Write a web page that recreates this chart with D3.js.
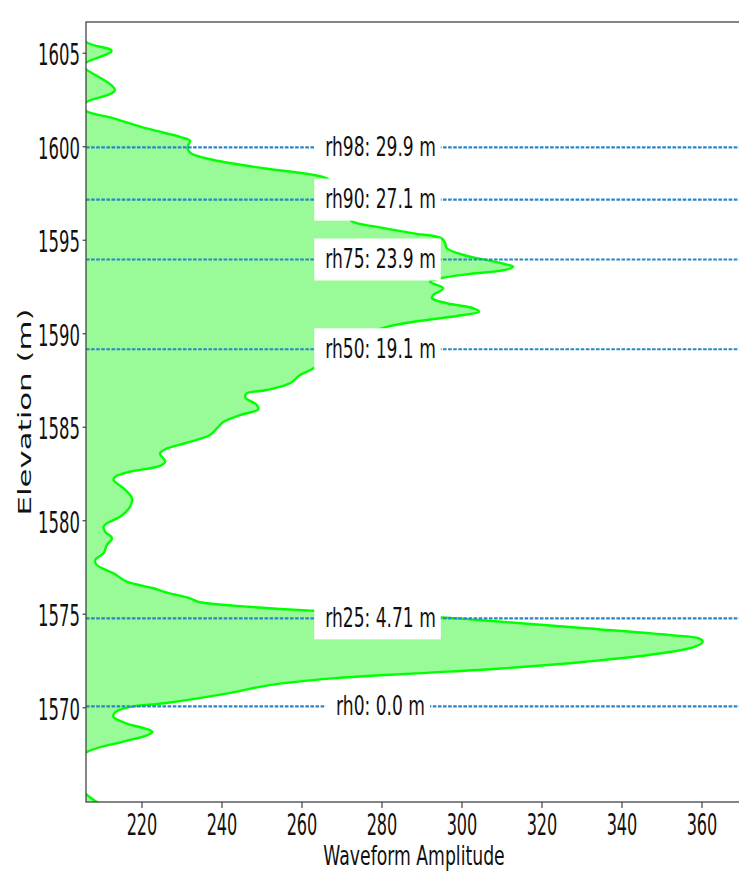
<!DOCTYPE html>
<html>
<head>
<meta charset="utf-8">
<script src="https://cdn.jsdelivr.net/npm/d3@7"></script>
<style>
  html, body { margin: 0; padding: 0; background: #fff; }
  svg { display: block; }
  text { font-family: "DejaVu Sans", sans-serif; fill: #111; }
</style>
</head>
<body>
<svg id="chart" width="739" height="871"></svg>
<script>
// Waveform profile: elevation (m) and return amplitude at each sample
const elevation = [
  1606.6, 1605.61, 1605.13, 1604.49, 1604.3, 1604.14, 1603.03, 1602.37, 1602.15, 1601.91,
  1601.52, 1600.98, 1600.53, 1600.32, 1600.1, 1599.91, 1599.65, 1599.29, 1598.85, 1598.49,
  1598.26, 1597.7, 1597.2, 1596.6, 1596.03, 1595.69, 1595.37, 1595.1, 1594.83, 1594.57,
  1594.21, 1593.94, 1593.76, 1593.58, 1593.4, 1593.2, 1592.96, 1592.78, 1592.43, 1592.07,
  1591.89, 1591.63, 1591.36, 1591.18, 1591.0, 1590.64, 1590.37, 1590.0, 1589.5, 1589.0,
  1588.5, 1588.15, 1587.79, 1587.35, 1586.99, 1586.81, 1586.6, 1586.19, 1585.96, 1585.65,
  1585.29, 1584.94, 1584.58, 1584.17, 1583.82, 1583.6, 1583.16, 1582.93, 1582.62, 1582.35,
  1582.18, 1581.73, 1581.2, 1580.75, 1580.21, 1579.86, 1579.68, 1579.41, 1579.06, 1578.7,
  1578.26, 1577.9, 1577.63, 1577.19, 1576.74, 1576.39, 1576.2, 1575.85, 1575.67, 1575.4,
  1575.19, 1575.0, 1574.83, 1574.6, 1574.25, 1573.89, 1573.71, 1573.53, 1573.26, 1572.82,
  1572.46, 1572.1, 1571.84, 1571.57, 1571.21, 1570.77, 1570.24, 1570.05, 1569.79, 1569.52,
  1569.17, 1568.72, 1568.54, 1568.18, 1567.61, 1566.6, 1565.5, 1565.0, 1564.8
];
const amplitude = [
  203, 206, 212.4, 206, 205.3, 206, 213.2, 206, 205.3, 206,
  212.9, 221.2, 229.5, 232.0, 231.6, 231.4, 232.2, 237.9, 250.4, 262.9,
  266.6, 268.8, 269.8, 270.8, 272.4, 279.5, 287.9, 294.9, 295.8, 296.2,
  300.4, 306.2, 310.0, 312.8, 310.5, 302.0, 294.5, 292.0, 295.3, 292.8,
  292.5, 296.2, 302.9, 304.3, 300.4, 287.9, 281.2, 276.0, 271.0, 267.0,
  264.5, 262.9, 259.5, 257.0, 251.2, 246.2, 245.8, 248.7, 249.1, 244.5,
  240.4, 238.7, 237.0, 231.2, 225.8, 224.5, 225.8, 224.5, 217.0, 213.3,
  212.9, 215.4, 217.5, 217.0, 214.5, 211.2, 210.4, 210.8, 212.5, 211.2,
  210.4, 208.3, 208.7, 212.9, 216.2, 222.9, 225.6, 232.0, 234.0, 246.6,
  262.9, 280.0, 295.0, 309.8, 330.8, 351.8, 359.2, 360.2, 358.1, 346.6,
  330.8, 309.8, 288.7, 267.7, 251.9, 241.4, 225.6, 217.2, 213.5, 212.8,
  216.1, 222.6, 221.4, 215.1, 206.0, 201.0, 205.4, 208.4, 210.0
];

// Relative-height metrics above the ground return
const groundElevation = 1570.07;
const rhNames   = ["rh0", "rh25", "rh50", "rh75", "rh90", "rh98"];
const rhHeights = [0.0, 4.71, 19.1, 23.9, 27.1, 29.9];

// Axis ticks
const xTicks = [220, 240, 260, 280, 300, 320, 340, 360];
const yTicks = [1570, 1575, 1580, 1585, 1590, 1595, 1600, 1605];

const svg = d3.select("#chart");
const plot = { left: 86, top: 22, right: 742, bottom: 802 };

const x = d3.scaleLinear().domain([206.0, 370.0]).range([plot.left, plot.right]);
const y = d3.scaleLinear().domain([1564.96, 1606.67]).range([plot.bottom, plot.top]);

const samples = elevation.map((e, i) => ({ e, a: amplitude[i] }));

svg.append("defs").append("clipPath").attr("id", "plotClip")
  .append("rect")
  .attr("x", plot.left).attr("y", plot.top)
  .attr("width", plot.right - plot.left).attr("height", plot.bottom - plot.top);

const body = svg.append("g").attr("clip-path", "url(#plotClip)");

const curve = d3.curveCatmullRom.alpha(0.5);

// Filled waveform
body.append("path")
  .datum(samples)
  .attr("fill", "#98fb98")
  .attr("d", d3.area().curve(curve)
    .y(d => y(d.e))
    .x0(x(190))
    .x1(d => x(d.a)));

// Waveform outline
body.append("path")
  .datum(samples)
  .attr("fill", "none")
  .attr("stroke", "#00ff00")
  .attr("stroke-width", 2.4)
  .attr("stroke-linejoin", "round")
  .attr("d", d3.line().curve(curve).x(d => x(d.a)).y(d => y(d.e)));

// RH lines and their labels
const rh = rhNames.map((name, i) => ({
  name,
  h: rhHeights[i],
  label: `${name}: ${rhHeights[i] === 0 ? "0.0" : rhHeights[i]} m`
}));

body.selectAll("line.rh").data(rh).join("line")
  .attr("class", "rh")
  .attr("x1", plot.left).attr("x2", plot.right)
  .attr("y1", d => y(groundElevation + d.h))
  .attr("y2", d => y(groundElevation + d.h))
  .attr("stroke", "#2a86c6")
  .attr("stroke-width", 2.2)
  .attr("stroke-dasharray", "3.6 1.5");

const labelCx = 380.5;
const labelScale = 0.633;
const lbl = svg.append("g").selectAll("g").data(rh).join("g");
lbl.each(function(d) {
  const g = d3.select(this);
  const yy = y(groundElevation + d.h);
  const rect = g.append("rect").attr("fill", "#fff");
  const t = g.append("text")
    .attr("transform", `translate(${labelCx},${yy + 8.5}) scale(${labelScale},1)`)
    .attr("text-anchor", "middle")
    .style("font-size", "27px")
    .text(d.label);
  const w = t.node().getComputedTextLength() * labelScale;
  rect.attr("x", labelCx - w / 2 - 11)
    .attr("width", w + 16)
    .attr("y", yy - 21)
    .attr("height", 42);
});

// Axes frame
const frame = svg.append("g").attr("stroke", "#444").attr("stroke-width", 1.3).attr("fill", "none");
frame.append("rect")
  .attr("x", plot.left).attr("y", plot.top)
  .attr("width", plot.right - plot.left).attr("height", plot.bottom - plot.top);

// Y axis ticks and labels
const yAxis = svg.append("g");
yAxis.selectAll("line").data(yTicks).join("line")
  .attr("x1", plot.left - 3.5).attr("x2", plot.left)
  .attr("y1", d => y(d)).attr("y2", d => y(d))
  .attr("stroke", "#444").attr("stroke-width", 1.2);
yAxis.selectAll("text").data(yTicks).join("text")
  .attr("transform", d => `translate(80,${y(d) + 12}) scale(0.54,1)`)
  .attr("text-anchor", "end")
  .style("font-size", "30.5px")
  .text(d => d);

// X axis ticks and labels
const xAxis = svg.append("g");
xAxis.selectAll("line").data(xTicks).join("line")
  .attr("x1", d => x(d)).attr("x2", d => x(d))
  .attr("y1", plot.bottom).attr("y2", plot.bottom + 6)
  .attr("stroke", "#444").attr("stroke-width", 1.2);
xAxis.selectAll("text").data(xTicks).join("text")
  .attr("transform", d => `translate(${x(d)},835) scale(0.52,1)`)
  .attr("text-anchor", "middle")
  .style("font-size", "31px")
  .text(d => d);

// Axis titles
svg.append("text")
  .attr("transform", `translate(${(plot.left + plot.right) / 2},865) scale(0.63,1)`)
  .attr("text-anchor", "middle")
  .style("font-size", "27.4px")
  .text("Waveform Amplitude");

svg.append("text")
  .attr("transform", `translate(30.7,${(plot.top + plot.bottom) / 2}) scale(0.55,1) rotate(-90)`)
  .attr("text-anchor", "middle")
  .style("font-size", "30.8px")
  .text("Elevation (m)");
</script>
</body>
</html>
